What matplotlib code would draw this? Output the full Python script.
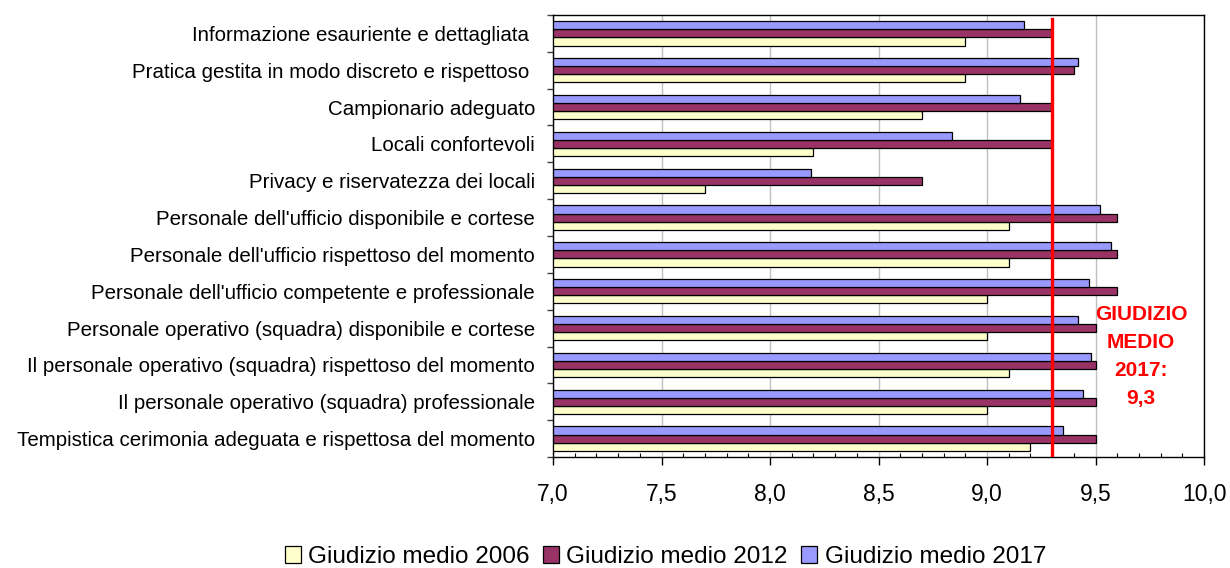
import matplotlib.pyplot as plt
import matplotlib.ticker as mticker
import numpy as np

plt.rcParams['font.family'] = ['Liberation Sans', 'DejaVu Sans']

categorie = [
    "Informazione esauriente e dettagliata ",
    "Pratica gestita in modo discreto e rispettoso ",
    "Campionario adeguato",
    "Locali confortevoli",
    "Privacy e riservatezza dei locali",
    "Personale dell'ufficio disponibile e cortese",
    "Personale dell'ufficio rispettoso del momento",
    "Personale dell'ufficio competente e professionale",
    "Personale operativo (squadra) disponibile e cortese",
    "Il personale operativo (squadra) rispettoso del momento",
    "Il personale operativo (squadra) professionale",
    "Tempistica cerimonia adeguata e rispettosa del momento",
]
g2006 = [8.9, 8.9, 8.7, 8.2, 7.7, 9.1, 9.1, 9.0, 9.0, 9.1, 9.0, 9.2]
g2012 = [9.3, 9.4, 9.3, 9.3, 8.7, 9.6, 9.6, 9.6, 9.5, 9.5, 9.5, 9.5]
g2017 = [9.17, 9.42, 9.15, 8.84, 8.19, 9.52, 9.57, 9.47, 9.42, 9.48, 9.44, 9.35]
media2017 = 9.3
serie = ["Giudizio medio 2006", "Giudizio medio 2012", "Giudizio medio 2017"]
colori = ["#FFFFCC", "#993366", "#9999FF"]

fig = plt.figure(figsize=(12.3, 5.68), dpi=100)
ax = fig.add_axes([0.4496, 0.1954, 0.5293, 0.7782])

n = len(categorie)
y = np.arange(n)
h = 0.22
base = 7.0
for k, vals in enumerate([g2006, g2012, g2017]):
    vals = np.array(vals)
    ax.barh(y + (1 - k) * h, vals - base, height=h, left=base, color=colori[k],
            edgecolor="black", linewidth=0.9, label=serie[k], zorder=3)

ax.axvline(media2017, ymin=0, ymax=0.992, color="#FF0000", linewidth=2.4, zorder=4)
ax.text(9.71, 8.77, "GIUDIZIO\nMEDIO\n2017:\n9,3", color="#FF0000", fontsize=15,
        fontweight="bold", ha="center", va="center", linespacing=1.62, zorder=5)

ax.set_xlim(7.0, 10.0)
ax.set_ylim(n - 0.5, -0.5)
ax.xaxis.set_major_locator(mticker.MultipleLocator(0.5))
ax.xaxis.set_minor_locator(mticker.MultipleLocator(0.1))
ax.xaxis.set_major_formatter(mticker.FuncFormatter(lambda v, p: f"{v:.1f}".replace(".", ",")))
ax.grid(axis="x", which="major", color="#C0C0C0", linewidth=1.0, zorder=0)

ax.set_yticks(y)
ax.set_yticklabels(categorie, fontsize=14.8)
ax.set_yticks(np.arange(n + 1) - 0.5, minor=True)
ax.tick_params(axis="y", which="major", length=0, pad=13)
ax.tick_params(axis="y", which="minor", direction="out", length=4, width=1, color="#404040")
ax.tick_params(axis="x", which="major", direction="out", length=6, width=1, labelsize=16.5, pad=13)
ax.tick_params(axis="x", which="minor", direction="in", length=3, width=0.8)

for s in ax.spines.values():
    s.set_linewidth(1.0)
    s.set_color("black")

handles, labels = ax.get_legend_handles_labels()
fig.legend(handles, labels, loc="center", bbox_to_anchor=(0.541, 0.019), ncol=3,
           frameon=False, fontsize=17.5, handlelength=0.66, handleheight=0.66,
           handletextpad=0.3, columnspacing=0.55, borderaxespad=0)

fig.savefig("out.png", dpi=100)
